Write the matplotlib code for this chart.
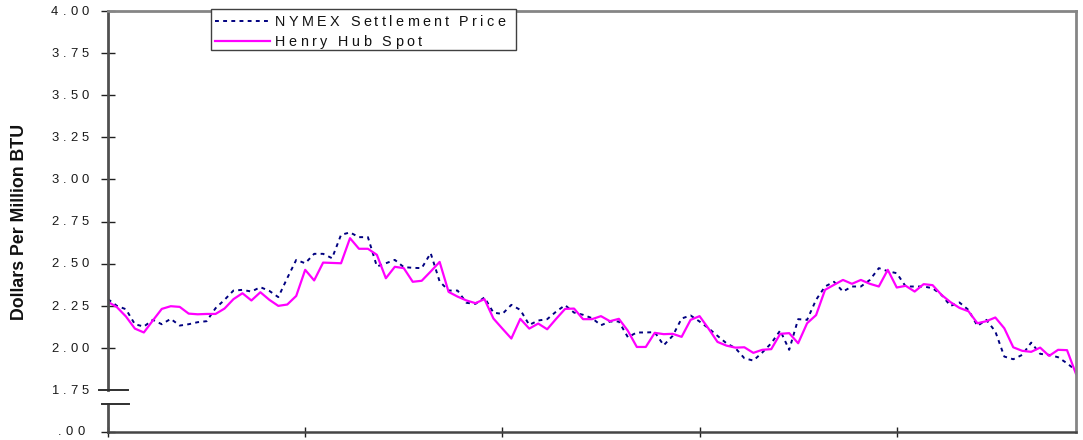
import numpy as np
import matplotlib
matplotlib.use('Agg')
import matplotlib.pyplot as plt
from matplotlib.lines import Line2D
from matplotlib.patches import Rectangle
from matplotlib.transforms import IdentityTransform, blended_transform_factory

plt.rcParams['font.family'] = ['Liberation Sans', 'DejaVu Sans']

# weekly prices, $/MMBtu
nymex = [2.289, 2.249, 2.229, 2.140, 2.126, 2.166, 2.140, 2.172, 2.132, 2.140,
         2.152, 2.158, 2.235, 2.285, 2.340, 2.344, 2.334, 2.360, 2.338, 2.301,
         2.414, 2.522, 2.502, 2.558, 2.558, 2.532, 2.671, 2.685, 2.657, 2.657,
         2.483, 2.502, 2.522, 2.479, 2.475, 2.473, 2.562, 2.394, 2.340, 2.340,
         2.267, 2.261, 2.299, 2.209, 2.201, 2.255, 2.225, 2.136, 2.162, 2.170,
         2.215, 2.253, 2.209, 2.196, 2.176, 2.134, 2.156, 2.156, 2.063, 2.091,
         2.091, 2.093, 2.015, 2.071, 2.174, 2.192, 2.156, 2.116, 2.071, 2.027,
         1.998, 1.938, 1.924, 1.972, 2.027, 2.103, 1.988, 2.170, 2.166, 2.285,
         2.364, 2.392, 2.334, 2.364, 2.364, 2.403, 2.473, 2.455, 2.443, 2.364,
         2.364, 2.364, 2.354, 2.314, 2.249, 2.269, 2.225, 2.130, 2.166, 2.097,
         1.948, 1.932, 1.958, 2.031, 1.964, 1.958, 1.944, 1.908, 1.865]
henry = [2.273, 2.241, 2.186, 2.114, 2.091, 2.162, 2.231, 2.247, 2.243, 2.203,
         2.199, 2.201, 2.201, 2.233, 2.289, 2.324, 2.281, 2.330, 2.285, 2.249,
         2.257, 2.308, 2.463, 2.400, 2.506, 2.504, 2.502, 2.651, 2.588, 2.588,
         2.552, 2.413, 2.481, 2.473, 2.392, 2.398, 2.453, 2.510, 2.332, 2.304,
         2.281, 2.265, 2.289, 2.174, 2.114, 2.055, 2.172, 2.114, 2.144, 2.110,
         2.172, 2.231, 2.233, 2.170, 2.170, 2.188, 2.158, 2.172, 2.101, 2.005,
         2.005, 2.089, 2.081, 2.083, 2.065, 2.166, 2.188, 2.114, 2.035, 2.013,
         2.001, 2.003, 1.970, 1.988, 1.992, 2.083, 2.087, 2.027, 2.146, 2.194,
         2.344, 2.374, 2.403, 2.380, 2.403, 2.380, 2.364, 2.463, 2.358, 2.368,
         2.334, 2.378, 2.372, 2.314, 2.271, 2.237, 2.217, 2.146, 2.158, 2.180,
         2.116, 2.003, 1.982, 1.976, 2.001, 1.952, 1.988, 1.986, 1.845]

y_ticks = [2.00, 2.25, 2.50, 2.75, 3.00, 3.25, 3.50, 3.75, 4.00]
y_labels = ['2.00', '2.25', '2.50', '2.75', '3.00', '3.25', '3.50', '3.75', '4.00']
x_ticks = [0, 22, 44, 66, 88]
series_names = ['NYMEX Settlement Price', 'Henry Hub Spot']

W, H = 1083, 440
fig = plt.figure(figsize=(W / 100, H / 100), dpi=100)
ax = fig.add_axes([108 / W, 8 / H, 968 / W, 421 / H])

x = np.arange(len(henry))
ax.plot(x, nymex, color='#000080', lw=1.4, ls=(0, (2, 2.2)))
ax.plot(x, henry, color='#FF00FF', lw=1.6)

ax.set_xlim(0, len(henry) - 1)
ax.set_ylim(1.5, 4.0)

# frame
ax.spines['left'].set_visible(False)
for s in ['top', 'right']:
    ax.spines[s].set_color('#858585')
    ax.spines[s].set_linewidth(2)
ax.spines['bottom'].set_color('#454545')
ax.spines['bottom'].set_linewidth(1.8)

ax.set_yticks([1.5] + y_ticks)
ax.set_xticks(x_ticks)
ax.tick_params(axis='y', direction='inout', length=9.5, width=1, color='#202020', labelleft=False)
ax.tick_params(axis='x', direction='inout', length=7, width=1, color='#202020', labelbottom=False)

# broken left axis
bt = blended_transform_factory(ax.transAxes, ax.transData)
ax.plot([0, 0], [1.75, 4.0], transform=bt, color='#505050', lw=2, clip_on=False)
ax.plot([0, 0], [1.5, 1.668], transform=bt, color='#505050', lw=2, clip_on=False)
ax.plot([-9 / 968, 19.5 / 968], [1.75, 1.75], transform=bt, color='#303030', lw=1.4, clip_on=False)
ax.plot([-6.5 / 968, 21 / 968], [1.668, 1.668], transform=bt, color='#303030', lw=1.4, clip_on=False)

# letter-spaced text, like the old spreadsheet export
adv = {'.': .278, ' ': .278, 'N': .722, 'Y': .667, 'M': .833, 'E': .667, 'X': .667,
       'S': .667, 'e': .556, 't': .278, 'l': .222, 'm': .833, 'n': .556, 'P': .667,
       'r': .333, 'i': .222, 'c': .5, 'H': .722, 'y': .5, 'u': .556, 'b': .556,
       'p': .556, 'o': .556}


def spaced(xp, yp, s, em, ls, ha='left', color='#1a1a1a'):
    # xp, yp in pixels from bottom-left, yp = baseline
    widths = [adv.get(c, .556) * em for c in s]
    total = sum(widths) + ls * (len(s) - 1)
    pos = xp - total if ha == 'right' else xp
    for c, w in zip(s, widths):
        fig.text(pos, yp, c, fontsize=em * 0.72, color=color, ha='left', va='baseline',
                 transform=IdentityTransform(), zorder=8)
        pos += w + ls


for v, lab in zip([1.75] + y_ticks, ['1.75'] + y_labels):
    yp = ax.transData.transform((0, v))[1]
    spaced(89, yp - 3.8, lab, 13, 4.2, ha='right')
spaced(84.5, H - 435, '.00', 13, 4.2, ha='right')

fig.text(20 / W, 1 - 222 / H, 'Dollars Per Million BTU', rotation=90, fontsize=12.8,
         fontweight='bold', ha='center', va='center', color='#111111')

# legend box
fig.add_artist(Rectangle((211 / W, 1 - 50 / H), 305 / W, 41 / H, transform=fig.transFigure,
                         facecolor='white', edgecolor='#404040', lw=1, zorder=5))
fig.add_artist(Line2D([215 / W, 270 / W], [1 - 20.7 / H] * 2, transform=fig.transFigure,
                      color='#000080', lw=1.4, ls=(0, (2, 2.2)), zorder=6))
fig.add_artist(Line2D([215 / W, 270 / W], [1 - 40.7 / H] * 2, transform=fig.transFigure,
                      color='#FF00FF', lw=1.6, zorder=6))
spaced(275, H - 26, series_names[0], 14.4, 3.3, color='#111111')
spaced(275, H - 46, series_names[1], 14.4, 3.4, color='#111111')

fig.savefig('out.png', dpi=100)
